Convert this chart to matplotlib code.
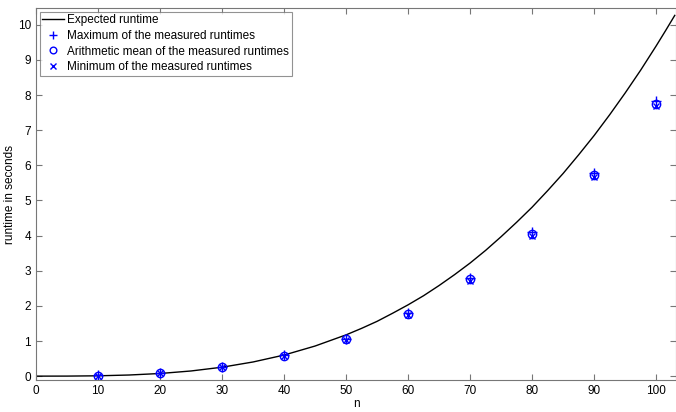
import matplotlib
matplotlib.use("Agg")
import matplotlib.pyplot as plt

plt.rcParams['font.family'] = ['Liberation Sans', 'DejaVu Sans']

# Expected runtime curve
n_curve = [0, 5, 10, 15, 20, 25, 30, 35, 40, 45, 50, 52.5, 55, 57.5, 60, 62.5, 65, 67.5, 70,
           72.5, 75, 77.5, 80, 82.5, 85, 87.5, 90, 92.5, 95, 97.5, 100, 101.5, 103]
t_expected = [0.0, 0.0012, 0.0094, 0.032, 0.075, 0.147, 0.254, 0.403, 0.60, 0.857, 1.175,
              1.36, 1.56, 1.79, 2.03, 2.29, 2.58, 2.89, 3.22,
              3.58, 3.97, 4.38, 4.81, 5.28, 5.77, 6.30, 6.85, 7.44, 8.06, 8.71, 9.40, 9.83, 10.27]

# Measured runtimes
n = [10, 20, 30, 40, 50, 60, 70, 80, 90, 100]
t_max = [0.02, 0.10, 0.27, 0.59, 1.07, 1.80, 2.80, 4.10, 5.78, 7.82]
t_mean = [0.01, 0.09, 0.26, 0.57, 1.05, 1.77, 2.76, 4.05, 5.72, 7.74]
t_min = [0.01, 0.08, 0.25, 0.56, 1.03, 1.75, 2.72, 4.00, 5.67, 7.68]

fig = plt.figure(figsize=(6.76, 4.12), dpi=100)
ax = fig.add_axes([36/676, 32/412, 640/676, 372/412])

ax.plot(n_curve, t_expected, color="black", linewidth=1, label="Expected runtime")
ax.plot(n, t_max, linestyle="none", marker="+", color="blue", markersize=7, label="Maximum of the measured runtimes")
ax.plot(n, t_mean, linestyle="none", marker="o", markerfacecolor="none", markeredgecolor="blue",
        markersize=6, label="Arithmetic mean of the measured runtimes")
ax.plot(n, t_min, linestyle="none", marker="x", color="blue", markersize=5, label="Minimum of the measured runtimes")

ax.set_xlim(0, 103.2)
ax.set_ylim(-0.11, 10.48)
ax.set_xticks(range(0, 101, 10))
ax.set_yticks(range(0, 11))
ax.tick_params(direction="in", top=True, right=True, length=4, labelsize=8.5, color="#777777")
for s in ax.spines.values():
    s.set_color("#777777")

ax.set_xlabel("n", fontsize=8.5, labelpad=1)
ax.set_ylabel("runtime in seconds", fontsize=8.5, labelpad=1)

leg = ax.legend(loc="upper left", fontsize=8.5, fancybox=False, edgecolor="#777777",
                borderaxespad=0.3, handlelength=1.8, handletextpad=0.3, labelspacing=0.3,
                borderpad=0.25, markerscale=0.8)
leg.get_frame().set_linewidth(0.8)

plt.savefig("out.png", dpi=100)
